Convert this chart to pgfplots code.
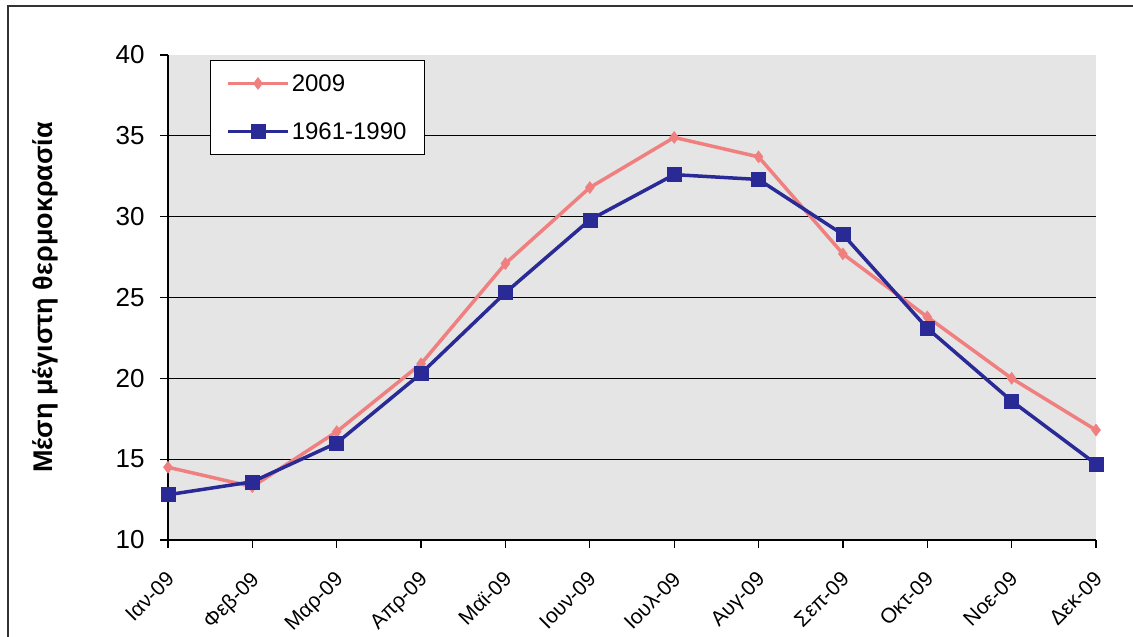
\documentclass[border=0pt]{standalone}
\usepackage{pgfplots}
\pgfplotsset{compat=1.18}
\usepackage{fontspec}
\setmainfont{Liberation Sans}
\definecolor{pinkline}{RGB}{240,128,128}
\definecolor{navyline}{RGB}{42,42,150}
\definecolor{bggray}{RGB}{229,229,229}
\pgfplotstableread{
x y
0 14.5
1 13.3
2 16.7
3 20.9
4 27.1
5 31.8
6 34.9
7 33.7
8 27.7
9 23.8
10 20.0
11 16.8
}\recent
\pgfplotstableread{
x y
0 12.8
1 13.6
2 16.0
3 20.3
4 25.3
5 29.8
6 32.6
7 32.3
8 28.9
9 23.1
10 18.6
11 14.7
}\normal
\begin{document}
\begin{tikzpicture}[x=1pt,y=1pt]
\useasboundingbox (-168,-97) rectangle (965,540);
\fill[white] (-168,-97) rectangle (965,540);
\begin{axis}[
  at={(0,0)}, anchor=south west,
  scale only axis, width=928pt, height=485pt,
  xmin=0, xmax=11, ymin=10, ymax=40,
  axis background/.style={fill=bggray},
  axis x line*=bottom, axis y line*=left,
  axis line style={black, line width=1.2pt},
  tick align=outside, major tick length=8pt,
  tick style={black, line width=1.2pt},
  xtick={0,...,11},
  xticklabels={Ιαν-09,Φεβ-09,Μαρ-09,Απρ-09,Μαϊ-09,Ιουν-09,Ιουλ-09,Αυγ-09,Σεπ-09,Οκτ-09,Νοε-09,Δεκ-09},
  xticklabel style={xshift=-3pt, yshift=-22pt, rotate=45, anchor=north east, font=\fontsize{21}{23}\selectfont, inner sep=0pt},
  ytick={10,15,...,35},
  extra y ticks={40}, extra tick style={grid=none},
  ymajorgrids, grid style={black, line width=1pt},
  yticklabel style={font=\fontsize{26}{28}\selectfont, xshift=-12pt},
  /pgf/number format/assume math mode=true,
  ylabel={Μέση μέγιστη θερμοκρασία},
  ylabel style={font=\bfseries\fontsize{27}{29}\selectfont, at={(axis description cs:-0.1325,0.5)}, anchor=center},
  legend style={at={(rel axis cs:0.045,0.99)}, anchor=north west, draw=black, line width=1pt, fill=white,
    font=\fontsize{24}{26}\selectfont, inner xsep=16pt, inner ysep=12pt, row sep=26pt},
  legend cell align=left,
  legend image code/.code={\path (0pt,0pt) -- (60pt,0pt); \draw[mark repeat=2,mark phase=2,#1] plot coordinates {(4pt,0pt) (30pt,0pt) (56pt,0pt)};},
  clip=false,
]
\addplot[pinkline, line width=3.5pt, mark=diamond*, mark size=6pt, mark options={solid, fill=pinkline, line width=0.5pt}] table[x=x,y=y] {\recent};
\addlegendentry{2009}
\addplot[navyline, line width=3.5pt, mark=square*, mark size=7pt, mark options={solid, fill=navyline, line width=0.5pt}] table[x=x,y=y] {\normal};
\addlegendentry{1961-1990}
\end{axis}
\draw[black!80, line width=2pt] (-160,-97) -- (-160,534) -- (965,534);
\end{tikzpicture}
\end{document}
